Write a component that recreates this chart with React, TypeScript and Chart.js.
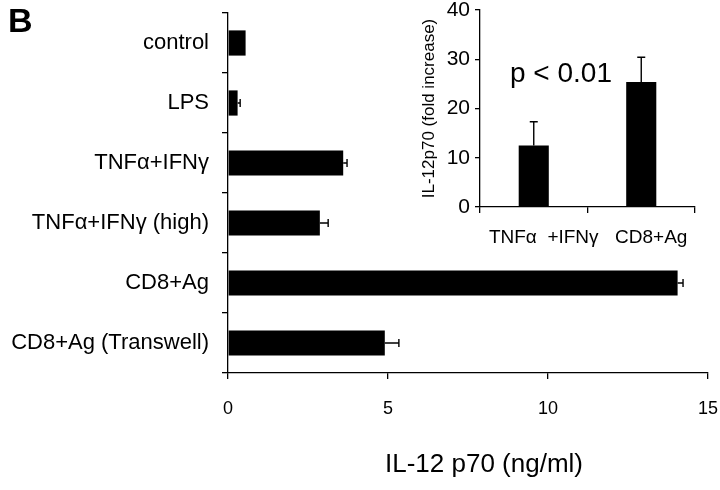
import React, { useEffect, useRef } from "react";
import { Chart, registerables } from "chart.js";
Chart.register(...registerables);

const categories = ["control", "LPS", "TNFα+IFNγ", "TNFα+IFNγ (high)", "CD8+Ag", "CD8+Ag (Transwell)"];
const values = [0.55, 0.3, 3.6, 2.87, 14.05, 4.9];
const errors = [0, 0.08, 0.12, 0.26, 0.17, 0.44];
const xTicks = [0, 5, 10, 15];
const xTitle = "IL-12 p70 (ng/ml)";

const insetCategories = ["TNFα  +IFNγ", "CD8+Ag"];
const insetValues = [12.5, 25.4];
const insetErrors = [4.8, 5.0];
const insetTicks = [0, 10, 20, 30, 40];
const insetYTitle = "IL-12p70 (fold increase)";
const pText = "p < 0.01";
const panelLabel = "B";

const FAMILY = "'Liberation Sans', Arial, Helvetica, sans-serif";

const errorBarPlugin = {
  id: "errorBars",
  afterDatasetsDraw(chart: any, _args: any, opts: any) {
    const errs: number[] = opts.errors || [];
    const horizontal: boolean = !!opts.horizontal;
    const cap: number = opts.cap || 4;
    const meta = chart.getDatasetMeta(0);
    const data = chart.data.datasets[0].data as number[];
    const scale = horizontal ? chart.scales.x : chart.scales.y;
    const ctx = chart.ctx;
    ctx.save();
    ctx.strokeStyle = "#000";
    ctx.lineWidth = opts.lineWidth || 1.3;
    meta.data.forEach((el: any, i: number) => {
      const e = errs[i];
      if (!e) return;
      const v = data[i];
      const p0 = scale.getPixelForValue(v);
      const p1 = scale.getPixelForValue(v + e);
      ctx.beginPath();
      if (horizontal) {
        ctx.moveTo(p0, el.y);
        ctx.lineTo(p1, el.y);
        ctx.moveTo(p1, el.y - cap);
        ctx.lineTo(p1, el.y + cap);
      } else {
        ctx.moveTo(el.x, p0);
        ctx.lineTo(el.x, p1);
        ctx.moveTo(el.x - cap, p1);
        ctx.lineTo(el.x + cap, p1);
      }
      ctx.stroke();
    });
    ctx.restore();
  },
};

const xTitlePlugin = {
  id: "xTitleCustom",
  afterDraw(chart: any, _args: any, opts: any) {
    const ctx = chart.ctx;
    const x = chart.scales.x.getPixelForValue(opts.atValue);
    ctx.save();
    ctx.fillStyle = "#000";
    ctx.font = `${opts.size}px ${FAMILY}`;
    ctx.textAlign = "center";
    ctx.textBaseline = "middle";
    ctx.fillText(opts.text, x, opts.y);
    ctx.restore();
  },
};

const zeroPad = (s: any) => {
  s.paddingLeft = 0;
  s.paddingRight = 0;
  s.paddingTop = 0;
  s.paddingBottom = 0;
};

export default function App() {
  const mainRef = useRef<HTMLCanvasElement>(null);
  const insetRef = useRef<HTMLCanvasElement>(null);

  useEffect(() => {
    const main = new Chart(mainRef.current!, {
      type: "bar",
      data: {
        labels: categories,
        datasets: [
          {
            data: values,
            backgroundColor: "#000",
            borderWidth: 0,
            barPercentage: 0.42,
            categoryPercentage: 1,
          },
        ],
      },
      plugins: [errorBarPlugin, xTitlePlugin],
      options: {
        indexAxis: "y",
        animation: false,
        responsive: false,
        maintainAspectRatio: false,
        layout: { padding: { top: 13, right: 12, bottom: 12, left: 0 } },
        plugins: {
          legend: { display: false },
          tooltip: { enabled: false },
          errorBars: { errors, horizontal: true, cap: 4, lineWidth: 1.4 },
          xTitleCustom: { text: xTitle, atValue: 8, y: 465, size: 26 },
        } as any,
        scales: {
          x: {
            type: "linear",
            min: 0,
            max: 15,
            afterBuildTicks: (s: any) => {
              s.ticks = xTicks.map((v) => ({ value: v }));
            },
            afterFit: (s: any) => {
              s.height = 105;
              zeroPad(s);
            },
            grid: { drawOnChartArea: false, drawTicks: true, tickLength: 6, color: "#000", lineWidth: 1.3 },
            border: { color: "#000", width: 1.3 },
            ticks: { color: "#000", font: { size: 18, family: FAMILY }, padding: 19, maxRotation: 0, autoSkip: false },
          },
          y: {
            afterFit: (s: any) => {
              s.width = 228;
              zeroPad(s);
            },
            grid: { offset: true, drawOnChartArea: false, drawTicks: true, tickLength: 6, color: "#000", lineWidth: 1.3 },
            border: { color: "#000", width: 1.3 },
            ticks: { color: "#000", font: { size: 22, family: FAMILY }, padding: 13, autoSkip: false },
          },
        },
      } as any,
    });

    const inset = new Chart(insetRef.current!, {
      type: "bar",
      data: {
        labels: insetCategories,
        datasets: [
          {
            data: insetValues,
            backgroundColor: "#000",
            borderWidth: 0,
            barPercentage: 0.28,
            categoryPercentage: 1,
          },
        ],
      },
      plugins: [errorBarPlugin],
      options: {
        animation: false,
        responsive: false,
        maintainAspectRatio: false,
        layout: { padding: { top: 10, right: 25, bottom: 0, left: 0 } },
        plugins: {
          legend: { display: false },
          tooltip: { enabled: false },
          errorBars: { errors: insetErrors, horizontal: false, cap: 4, lineWidth: 1.4 },
        } as any,
        scales: {
          x: {
            afterFit: (s: any) => {
              s.height = 53;
              zeroPad(s);
            },
            grid: { offset: true, drawOnChartArea: false, drawTicks: true, tickLength: 6, color: "#000", lineWidth: 1.3 },
            border: { color: "#000", width: 1.3 },
            ticks: {
              color: "#000",
              font: { size: 19, family: FAMILY },
              padding: 13,
              labelOffset: 10,
              maxRotation: 0,
              minRotation: 0,
              autoSkip: false,
            },
          },
          y: {
            min: 0,
            max: 40,
            afterBuildTicks: (s: any) => {
              s.ticks = insetTicks.map((v) => ({ value: v }));
            },
            afterFit: (s: any) => {
              s.width = 80;
              zeroPad(s);
            },
            title: {
              display: true,
              text: insetYTitle,
              color: "#000",
              font: { size: 17, family: FAMILY },
              padding: { top: 19, bottom: 0 },
            },
            grid: { drawOnChartArea: false, drawTicks: true, tickLength: 5, color: "#000", lineWidth: 1.3 },
            border: { color: "#000", width: 1.3 },
            ticks: { color: "#000", font: { size: 21, family: FAMILY }, padding: 5, autoSkip: false },
          },
        },
      } as any,
    });

    return () => {
      main.destroy();
      inset.destroy();
    };
  }, []);

  return (
    <div style={{ position: "absolute", left: 0, top: 0, width: 720, height: 490, background: "#fff", fontFamily: FAMILY }}>
      <canvas ref={mainRef} width={720} height={490} style={{ position: "absolute", left: 0, top: 0 }} />
      <canvas ref={insetRef} width={320} height={260} style={{ position: "absolute", left: 400, top: 0 }} />
      <div style={{ position: "absolute", left: 8, top: 3, fontSize: 34, fontWeight: "bold", lineHeight: 1, color: "#000" }}>
        {panelLabel}
      </div>
      <div
        style={{
          position: "absolute",
          left: 561,
          top: 73,
          transform: "translate(-50%, -50%)",
          fontSize: 28,
          lineHeight: 1,
          whiteSpace: "nowrap",
          color: "#000",
        }}
      >
        {pText}
      </div>
    </div>
  );
}
